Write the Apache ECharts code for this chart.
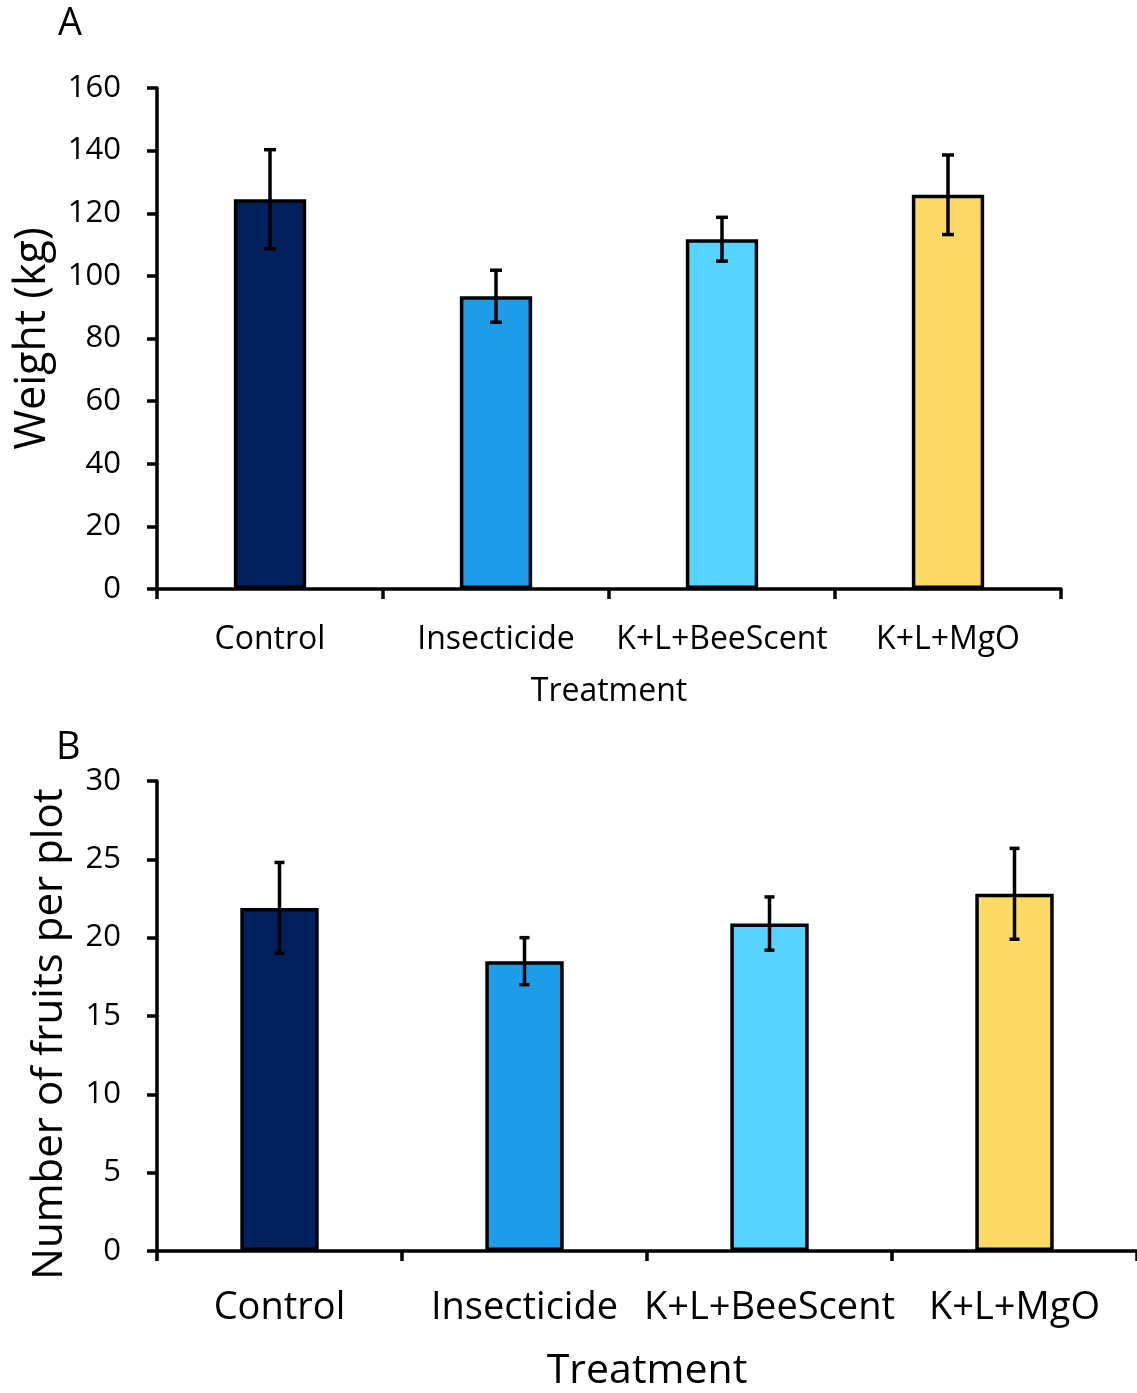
<!DOCTYPE html>
<html>
<head>
<meta charset="utf-8">
<script src="https://cdn.jsdelivr.net/npm/echarts@6/dist/echarts.min.js"></script>
<style>
  html, body { margin: 0; padding: 0; background: #fff; }
  #chart { width: 1137px; height: 1393px; }
</style>
</head>
<body>
<div id="chart"></div>
<script>
// categories and values
const treatments = ['Control', 'Insecticide', 'K+L+BeeScent', 'K+L+MgO']
const barColors = ['#02205E', '#1F9CE8', '#57D3FF', '#FDD966']

const weightMean = [124.5, 93.5, 111.7, 125.9]
const weightErr = [15.8, 8.3, 7.0, 12.7]
const weightTicks = { min: 0, max: 160, interval: 20 }

const fruitMean = [21.9, 18.5, 20.9, 22.8]
const fruitErr = [2.9, 1.5, 1.7, 2.9]
const fruitTicks = { min: 0, max: 30, interval: 5 }

const font = 'Open Sans'

// error bar drawn through the axis scales
function errorBars(capHalf) {
  return function (params, api) {
    const x = api.value(0)
    const lo = api.coord([x, api.value(1)])
    const hi = api.coord([x, api.value(2)])
    const style = { stroke: '#000', lineWidth: 3.5 }
    return {
      type: 'group',
      children: [
        { type: 'line', shape: { x1: hi[0], y1: hi[1], x2: lo[0], y2: lo[1] }, style: style },
        { type: 'line', shape: { x1: hi[0] - capHalf, y1: hi[1], x2: hi[0] + capHalf, y2: hi[1] }, style: style },
        { type: 'line', shape: { x1: lo[0] - capHalf, y1: lo[1], x2: lo[0] + capHalf, y2: lo[1] }, style: style }
      ]
    }
  }
}

function barData(means) {
  return means.map((v, i) => ({ value: v, itemStyle: { color: barColors[i] } }))
}
function errData(means, errs) {
  return means.map((v, i) => [i, v - errs[i], v + errs[i]])
}

const axisLine = { show: true, lineStyle: { color: '#000', width: 3.5 } }
const axisTick = { show: true, length: 10, interval: 0, lineStyle: { color: '#000', width: 3.5 } }

const option = {
  backgroundColor: '#fff',
  animation: false,
  textStyle: { fontFamily: font, color: '#000' },
  title: [
    { text: 'A', left: 53, top: 0, textStyle: { fontFamily: font, fontSize: 38, fontWeight: 'normal', color: '#000' } },
    { text: 'B', left: 51, top: 724, textStyle: { fontFamily: font, fontSize: 38, fontWeight: 'normal', color: '#000' } }
  ],
  grid: [
    { left: 157, top: 88, width: 904, height: 501 },
    { left: 157, top: 781, width: 984, height: 471 }
  ],
  xAxis: [
    {
      gridIndex: 0, type: 'category', data: treatments,
      axisLine: axisLine, axisTick: axisTick,
      axisLabel: { color: '#000', fontFamily: font, fontSize: 32, margin: 35, interval: 0 },
      name: 'Treatment', nameLocation: 'middle', nameGap: 87,
      nameTextStyle: { color: '#000', fontFamily: font, fontSize: 32 }
    },
    {
      gridIndex: 1, type: 'category', data: treatments,
      axisLine: axisLine, axisTick: axisTick,
      axisLabel: { color: '#000', fontFamily: font, fontSize: 38, margin: 38, interval: 0 },
      name: 'Treatment', nameLocation: 'middle', nameGap: 100,
      nameTextStyle: { color: '#000', fontFamily: font, fontSize: 41 }
    }
  ],
  yAxis: [
    {
      gridIndex: 0, type: 'value', min: weightTicks.min, max: weightTicks.max, interval: weightTicks.interval,
      axisLine: axisLine, axisTick: axisTick, splitLine: { show: false },
      axisLabel: { color: '#000', fontFamily: font, fontSize: 31, margin: 36 },
      name: 'Weight (kg)', nameLocation: 'middle', nameGap: 103,
      nameTextStyle: { color: '#000', fontFamily: font, fontSize: 43 }
    },
    {
      gridIndex: 1, type: 'value', min: fruitTicks.min, max: fruitTicks.max, interval: fruitTicks.interval,
      axisLine: axisLine, axisTick: axisTick, splitLine: { show: false },
      axisLabel: { color: '#000', fontFamily: font, fontSize: 31, margin: 36 },
      name: 'Number of fruits per plot', nameLocation: 'middle', nameGap: 86,
      nameTextStyle: { color: '#000', fontFamily: font, fontSize: 42, padding: [0, 36, 0, 0] }
    }
  ],
  series: [
    {
      type: 'bar', xAxisIndex: 0, yAxisIndex: 0, barWidth: '32%',
      itemStyle: { borderColor: '#000', borderWidth: 3.5 },
      data: barData(weightMean)
    },
    {
      type: 'custom', xAxisIndex: 0, yAxisIndex: 0, z: 5,
      renderItem: errorBars(6),
      data: errData(weightMean, weightErr)
    },
    {
      type: 'bar', xAxisIndex: 1, yAxisIndex: 1, barWidth: '32%',
      itemStyle: { borderColor: '#000', borderWidth: 3.5 },
      data: barData(fruitMean)
    },
    {
      type: 'custom', xAxisIndex: 1, yAxisIndex: 1, z: 5,
      renderItem: errorBars(5),
      data: errData(fruitMean, fruitErr)
    }
  ]
}

const chart = echarts.init(document.getElementById('chart'))
chart.setOption(option)
</script>
</body>
</html>
